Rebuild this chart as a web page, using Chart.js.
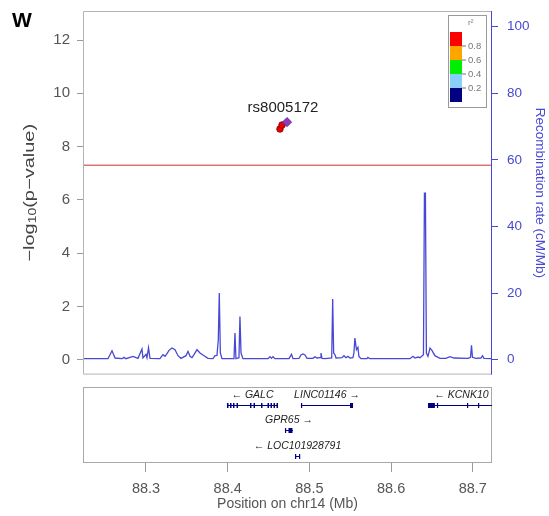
<!DOCTYPE html>
<html lang="en">
<head>
  <meta charset="UTF-8">
  <title>rs8005172 regional association – chr14</title>
  <script src="https://cdn.jsdelivr.net/npm/chart.js"></script>
  <style>
    body {
      margin: 0;
      background: #fff;
      font-family: Arial, "Liberation Sans", sans-serif;
    }
    #wrap {
      position: relative;
      width: 549px;
      height: 516px;
    }
    #assocBox {
      position: absolute;
      left: 0;
      top: 0;
      width: 549px;
      height: 380px;
    }
    #geneBox {
      position: absolute;
      left: 0;
      top: 380px;
      width: 549px;
      height: 136px;
    }
    #panelLabel {
      position: absolute;
      left: 12px;
      top: 9px;
      font: bold 21px Arial, "Liberation Sans", sans-serif;
      line-height: 1;
    }
  </style>
</head>
<body>
<div id="wrap">
  <div id="assocBox"><canvas id="assocChart"></canvas></div>
  <div id="geneBox"><canvas id="geneChart"></canvas></div>
  <div id="panelLabel">W</div>
</div>

<script>
  // region shown (Mb on chr14) and axis ticks
  const xRange = [88.2229, 88.7235];
  const xTicks = [88.3, 88.4, 88.5, 88.6, 88.7];
  const pTicks = [0, 2, 4, 6, 8, 10, 12];
  const recTicks = [0, 20, 40, 60, 80, 100];
  const pRange = [-0.56, 13.09];
  const gwsLine = 7.3;

  // associated SNPs
  const snpPos = [88.4640, 88.4665, 88.4726];
  const snpLogP = [8.66, 8.81, 8.92];
  const snpColor = ['#ee0000', '#ee0000', '#8e3cbd'];
  const snpShape = ['circle', 'circle', 'rectRot'];
  const leadSnp = 'rs8005172';

  // LD legend
  const ldColors = ['#000080', '#87cefa', '#00ee00', '#ffa500', '#ff0000'];
  const ldBreaks = ['0.2', '0.4', '0.6', '0.8'];

  // recombination rate (cM/Mb)
  const recPos = [
    88.2229, 88.2535, 88.2584, 88.2621, 88.2706, 88.2731, 88.2755, 88.2841, 88.2878, 88.2902,
    88.2951, 88.2963, 88.3000, 88.3012, 88.3031, 88.3049, 88.3171, 88.3208, 88.3233, 88.3257,
    88.3282, 88.3318, 88.3355, 88.3392, 88.3428, 88.3490, 88.3514, 88.3539, 88.3563, 88.3588,
    88.3624, 88.3661, 88.3710, 88.3759, 88.3820, 88.3845, 88.3869, 88.3885, 88.3897, 88.3910,
    88.3930, 88.4077, 88.4089, 88.4101, 88.4138, 88.4150, 88.4163, 88.4187, 88.4493, 88.4518,
    88.4536, 88.4554, 88.4579, 88.4750, 88.4781, 88.4799, 88.4873, 88.4897, 88.4922, 88.4946,
    88.4971, 88.5044, 88.5069, 88.5093, 88.5130, 88.5142, 88.5154, 88.5191, 88.5273, 88.5285,
    88.5297, 88.5313, 88.5326, 88.5399, 88.5423, 88.5448, 88.5472, 88.5497, 88.5533, 88.5545,
    88.5557, 88.5576, 88.5594, 88.5606, 88.5631, 88.5704, 88.5716, 88.5741, 88.6231, 88.6268,
    88.6292, 88.6329, 88.6353, 88.6396, 88.6408, 88.6420, 88.6432, 88.6451, 88.6476, 88.6500,
    88.6536, 88.6598, 88.6671, 88.6720, 88.6769, 88.6941, 88.6972, 88.6984, 88.6996, 88.7039,
    88.7100, 88.7119, 88.7137, 88.7235
  ];
  const recRate = [
    0.3, 0.3, 2.7, 0.5, 0.3, 0.7, 0.3, 1.0, 0.6, 0.4,
    3.2, 0.5, 1.6, 0.6, 3.6, 0.4, 0.3, 1.5, 1.0, 1.8,
    2.8, 3.5, 3.0, 1.2, 0.4, 1.2, 2.5, 1.0, 0.6, 1.5,
    3.0, 2.0, 1.2, 0.4, 0.3, 1.2, 1.3, 6.0, 20.0, 2.0,
    0.3, 0.3, 8.0, 0.3, 0.6, 13.0, 2.0, 0.3, 0.3, 0.9,
    0.4, 0.9, 0.3, 0.3, 1.6, 0.3, 0.4, 1.4, 1.7, 1.4,
    0.4, 0.4, 0.9, 0.5, 0.6, 2.0, 0.4, 0.3, 0.5, 18.2,
    2.0, 1.5, 0.5, 0.6, 1.2, 0.6, 1.0, 0.5, 0.6, 2.0,
    6.5, 3.0, 3.7, 1.0, 0.3, 0.3, 0.7, 0.3, 0.3, 1.0,
    0.5, 0.8, 0.6, 1.5, 50.0, 50.0, 2.0, 1.0, 3.5, 2.8,
    1.2, 0.4, 0.4, 0.9, 0.5, 0.4, 0.7, 4.3, 0.7, 0.4,
    0.5, 1.2, 0.4, 0.3
  ];

  // genes in the region
  const geneName = ['GALC', 'LINC01146', 'GPR65', 'LOC101928791', 'KCNK10'];
  const geneStart = [88.3991, 88.4897, 88.4701, 88.4824, 88.6452];
  const geneEnd = [88.4616, 88.5534, 88.4799, 88.4885, 88.7270];
  const geneStrand = [-1, 1, 1, -1, -1];
  const geneRow = [1, 1, 2, 3, 1];
  const geneExons = [
    [[88.3991, 88.4010], [88.4028, 88.4047], [88.4065, 88.4083], [88.4108, 88.4126],
     [88.4273, 88.4291], [88.4316, 88.4334], [88.4408, 88.4426], [88.4487, 88.4506],
     [88.4524, 88.4542], [88.4561, 88.4579], [88.4597, 88.4616]],
    [[88.4897, 88.4909], [88.5497, 88.5534]],
    [[88.4701, 88.4713], [88.4744, 88.4793]],
    [[88.4824, 88.4835], [88.4873, 88.4885]],
    [[88.6452, 88.6536], [88.6561, 88.6573], [88.6929, 88.6941], [88.7064, 88.7076]]
  ];

  const fontFamily = 'Arial, "Liberation Sans", sans-serif';
  const recBlue = '#4848d4';
  const axisGrey = '#9a9a9a';

  // y axes keep their fixed widths and no extra edge padding for tick labels
  const fixWidth = w => s => {
    s.width = w;
    s.paddingTop = 0;
    s.paddingBottom = 0;
  };

  // frame, significance line, LD legend, axis title and lead SNP label
  const assocDecor = {
    id: 'assocDecor',
    beforeDatasetsDraw(chart) {
      const {ctx, chartArea: a, scales} = chart;
      const yLine = scales.y.getPixelForValue(gwsLine);
      ctx.save();
      ctx.strokeStyle = '#e07474';
      ctx.lineWidth = 1.5;
      ctx.beginPath();
      ctx.moveTo(a.left, yLine);
      ctx.lineTo(a.right, yLine);
      ctx.stroke();
      ctx.restore();
    },
    afterDraw(chart) {
      const {ctx, chartArea: a, scales} = chart;
      ctx.save();
      ctx.lineWidth = 1;
      ctx.strokeStyle = '#b4b4b4';
      ctx.beginPath();
      ctx.moveTo(a.right, a.top + 0.5);
      ctx.lineTo(a.left + 0.5, a.top + 0.5);
      ctx.lineTo(a.left + 0.5, a.bottom - 0.5);
      ctx.lineTo(a.right, a.bottom - 0.5);
      ctx.stroke();
      ctx.strokeStyle = recBlue;
      ctx.beginPath();
      ctx.moveTo(a.right - 0.5, a.top);
      ctx.lineTo(a.right - 0.5, a.bottom);
      ctx.stroke();

      // r² legend
      const lx = a.right - 44, ly = a.top + 4;
      ctx.fillStyle = '#fff';
      ctx.fillRect(lx, ly, 38, 92);
      ctx.strokeStyle = '#9a9a9a';
      ctx.strokeRect(lx + 0.5, ly + 0.5, 38, 92);
      const barX = lx + 2, barTop = ly + 17, barH = 14;
      ldColors.forEach((c, i) => {
        ctx.fillStyle = c;
        ctx.fillRect(barX, barTop + (ldColors.length - 1 - i) * barH, 12, barH);
      });
      ctx.fillStyle = '#777';
      ctx.strokeStyle = '#777';
      ctx.font = '9.5px ' + fontFamily;
      ctx.textBaseline = 'middle';
      ctx.textAlign = 'left';
      ldBreaks.forEach((t, i) => {
        const yy = barTop + (ldBreaks.length - i) * barH;
        ctx.beginPath();
        ctx.moveTo(barX + 12, yy);
        ctx.lineTo(barX + 16, yy);
        ctx.stroke();
        ctx.fillText(t, barX + 18, yy);
      });
      ctx.font = '8px ' + fontFamily;
      ctx.fillText('r²', lx + 20, ly + 8);

      // left axis title with a real subscript, set a little narrow
      ctx.save();
      ctx.translate(30, (a.top + a.bottom) / 2);
      ctx.rotate(-Math.PI / 2);
      ctx.scale(1, 0.72);
      ctx.fillStyle = '#444';
      ctx.textAlign = 'left';
      ctx.textBaseline = 'middle';
      const parts = [['−log', 20, 0], ['10', 14, 5], ['(p−value)', 20, 0]];
      let total = 0;
      parts.forEach(([t, size]) => {
        ctx.font = size + 'px ' + fontFamily;
        total += ctx.measureText(t).width;
      });
      let tx = -total / 2;
      parts.forEach(([t, size, dy]) => {
        ctx.font = size + 'px ' + fontFamily;
        ctx.fillText(t, tx, dy);
        tx += ctx.measureText(t).width;
      });
      ctx.restore();

      // lead SNP name
      const lead = snpLogP.indexOf(Math.max(...snpLogP));
      const px = scales.x.getPixelForValue(snpPos[lead]);
      const py = scales.y.getPixelForValue(snpLogP[lead]);
      ctx.fillStyle = '#222';
      ctx.font = '15px ' + fontFamily;
      ctx.textAlign = 'center';
      ctx.textBaseline = 'middle';
      ctx.fillText(leadSnp, px - 4, py - 14);
      ctx.restore();
    }
  };

  new Chart(document.getElementById('assocChart'), {
    type: 'scatter',
    data: {
      datasets: [
        {
          label: 'Recombination rate',
          yAxisID: 'y2',
          data: recPos.map((x, i) => ({x: x, y: recRate[i]})),
          showLine: true,
          borderColor: recBlue,
          borderWidth: 1.3,
          pointRadius: 0,
          order: 2
        },
        {
          label: 'SNPs',
          yAxisID: 'y',
          data: snpPos.map((x, i) => ({x: x, y: snpLogP[i]})),
          pointStyle: snpShape,
          pointRadius: [3.3, 3.3, 4.6],
          backgroundColor: snpColor,
          borderColor: ['#7a0000', '#7a0000', '#5a1f80'],
          borderWidth: 0.8,
          order: 1
        }
      ]
    },
    options: {
      animation: false,
      responsive: true,
      maintainAspectRatio: false,
      layout: {padding: {top: 11, bottom: 5, left: 0, right: 0}},
      plugins: {legend: {display: false}, tooltip: {enabled: false}},
      scales: {
        x: {type: 'linear', display: false, min: xRange[0], max: xRange[1]},
        y: {
          position: 'left',
          min: pRange[0],
          max: pRange[1],
          afterBuildTicks: s => { s.ticks = pTicks.map(v => ({value: v})); },
          afterFit: fixWidth(83),
          grid: {drawOnChartArea: false, color: axisGrey, tickLength: 6},
          border: {display: false},
          ticks: {color: '#555', padding: 7, font: {size: 15, family: fontFamily}}
        },
        y2: {
          position: 'right',
          min: pRange[0] * 8,
          max: pRange[1] * 8,
          afterBuildTicks: s => { s.ticks = recTicks.map(v => ({value: v})); },
          afterFit: fixWidth(57),
          grid: {drawOnChartArea: false, color: recBlue, tickLength: 6},
          border: {display: false},
          ticks: {color: recBlue, padding: 9, font: {size: 13.5, family: fontFamily}},
          title: {
            display: true,
            text: 'Recombination rate (cM/Mb)',
            color: recBlue,
            font: {size: 13.5, family: fontFamily},
            padding: {top: 1, bottom: 0}
          }
        }
      }
    },
    plugins: [assocDecor]
  });

  // gene track: frame, transcripts, exons and names
  const geneTrack = {
    id: 'geneTrack',
    afterDraw(chart) {
      const {ctx, chartArea: a, scales} = chart;
      ctx.save();
      ctx.strokeStyle = '#a8a8a8';
      ctx.lineWidth = 1;
      ctx.strokeRect(a.left + 0.5, a.top + 0.5, a.right - a.left - 1, a.bottom - a.top - 1);

      ctx.beginPath();
      ctx.rect(a.left, a.top, a.right - a.left, a.bottom - a.top);
      ctx.clip();
      geneName.forEach((name, i) => {
        const y = Math.round(scales.y.getPixelForValue(geneRow[i])) + 0.5;
        const x0 = scales.x.getPixelForValue(geneStart[i]);
        const x1 = scales.x.getPixelForValue(geneEnd[i]);
        ctx.strokeStyle = '#000080';
        ctx.beginPath();
        ctx.moveTo(x0, y);
        ctx.lineTo(x1, y);
        ctx.stroke();
        ctx.fillStyle = '#000080';
        geneExons[i].forEach(([s, e]) => {
          const ex0 = scales.x.getPixelForValue(s);
          const ex1 = scales.x.getPixelForValue(e);
          ctx.fillRect(ex0, y - 2.5, Math.max(ex1 - ex0, 1.2), 5);
        });

        const label = geneStrand[i] < 0 ? '← ' + name : name + ' →';
        ctx.font = 'italic 10.5px ' + fontFamily;
        const w = ctx.measureText(label).width;
        let cx = (x0 + x1) / 2;
        cx = Math.min(cx, a.right - w / 2 - 2);
        cx = Math.max(cx, a.left + w / 2 + 2);
        ctx.fillStyle = '#222';
        ctx.textAlign = 'center';
        ctx.textBaseline = 'middle';
        ctx.fillText(label, cx, y - 10);
      });
      ctx.restore();
    }
  };

  new Chart(document.getElementById('geneChart'), {
    type: 'scatter',
    data: {datasets: []},
    options: {
      animation: false,
      responsive: true,
      maintainAspectRatio: false,
      layout: {padding: {top: 7, left: 83, right: 57, bottom: 0}},
      plugins: {legend: {display: false}, tooltip: {enabled: false}},
      scales: {
        x: {
          type: 'linear',
          position: 'bottom',
          min: xRange[0],
          max: xRange[1],
          afterBuildTicks: s => { s.ticks = xTicks.map(v => ({value: v})); },
          afterFit: s => { s.height = 53; },
          grid: {drawOnChartArea: false, color: axisGrey, tickLength: 9},
          border: {display: false},
          ticks: {
            color: '#555',
            padding: 8,
            maxRotation: 0,
            font: {size: 14.5, family: fontFamily},
            callback: v => v.toFixed(1)
          },
          title: {
            display: true,
            text: 'Position on chr14 (Mb)',
            color: '#555',
            font: {size: 14, family: fontFamily},
            padding: {top: 0, bottom: 3.5}
          }
        },
        y: {type: 'linear', display: false, reverse: true, min: 0.3, max: 3.28}
      }
    },
    plugins: [geneTrack]
  });
</script>
</body>
</html>
